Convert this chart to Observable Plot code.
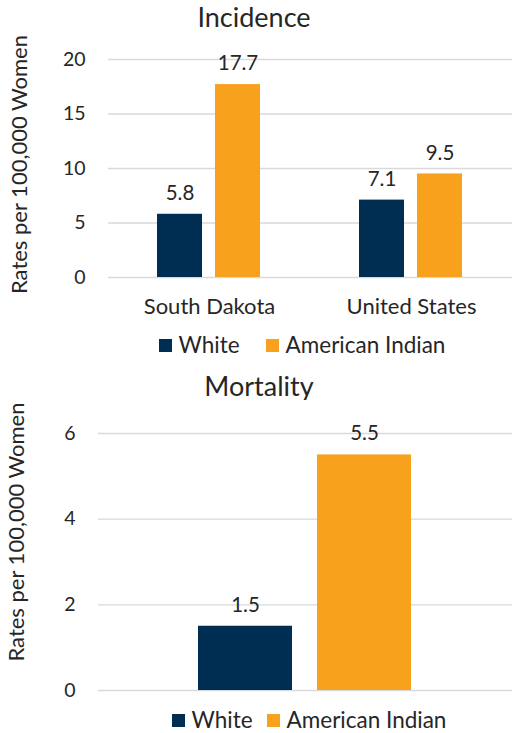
<!DOCTYPE html>
<html><head><meta charset="utf-8">
<script src="https://cdn.jsdelivr.net/npm/d3@7"></script>
<script src="https://cdn.jsdelivr.net/npm/@observablehq/plot@0.6"></script>
<style>
html,body{margin:0;padding:0;overflow:hidden;background:#fff;}
#page{position:relative;width:512px;height:733px;font-family:Lato,sans-serif;color:#262626;}
.title{position:absolute;text-align:center;font-size:27px;line-height:32px;white-space:nowrap;}
.legend{position:absolute;display:flex;justify-content:center;align-items:center;font-size:22.5px;line-height:24px;}
.item{display:flex;align-items:center;margin:0 13px;white-space:nowrap;}
#l2 .item{margin:0 7px;}
.sw{display:inline-block;width:13px;height:13px;margin-right:7px;}
.chart{position:absolute;left:0;}
</style></head>
<body><div id="page">
<div class="title" id="t1" style="left:0;width:508px;top:1px;">Incidence</div>
<div class="chart" id="c1" style="top:40px;"></div>
<div class="legend" id="l1" style="left:107px;width:390px;top:333px;"></div>
<div class="title" id="t2" style="left:0;width:518px;top:370px;">Mortality</div>
<div class="chart" id="c2" style="top:400px;"></div>
<div class="legend" id="l2" style="left:102px;width:414px;top:708px;"></div>
</div>
<script>
const states = ["South Dakota", "United States"];
const races = ["White", "American Indian"];
const incidenceWhite = [5.8, 7.1];
const incidenceAmericanIndian = [17.7, 9.5];
const mortalityValues = [1.5, 5.5];
const incidenceTicks = [0, 5, 10, 15, 20];
const mortalityTicks = [0, 2, 4, 6];
const raceColors = ["#002d52", "#f8a11d"];
const yLabel = "Rates per 100,000 Women";

const incidence = [];
states.forEach((s, i) => {
  incidence.push({state: s, race: races[0], value: incidenceWhite[i]});
  incidence.push({state: s, race: races[1], value: incidenceAmericanIndian[i]});
});
const mortality = races.map((r, i) => ({race: r, value: mortalityValues[i]}));

const baseStyle = {fontFamily: "Lato, sans-serif", fontSize: "19px", color: "#262626", background: "#fff", overflow: "visible"};
const fmt = d => String(d);

const p1 = Plot.plot({
  width: 512, height: 290,
  marginLeft: 107, marginRight: 0, marginTop: 19, marginBottom: 53,
  style: baseStyle,
  fx: {domain: states, padding: 0, label: null, axis: null},
  x: {domain: races, paddingInner: 0.22, paddingOuter: 0.826, axis: null},
  y: {domain: [0, 20], axis: null},
  color: {domain: races, range: raceColors},
  marks: [
    Plot.ruleY(incidenceTicks, {stroke: "#d9d9d9", strokeWidth: 1.3}),
    Plot.axisY({ticks: incidenceTicks, tickFormat: fmt, tickSize: 0, tickPadding: 23, label: null, fontSize: 19.5}),
    Plot.axisFx({anchor: "bottom", tickSize: 0, tickPadding: 21, label: null, fontSize: 22}),
    Plot.barY(incidence, {fx: "state", x: "race", y: "value", fill: "race"}),
    Plot.text(incidence, {fx: "state", x: "race", y: "value", text: d => d.value.toFixed(1), dy: -21, lineAnchor: "middle", fontSize: 20.5, fill: "#262626"}),
    Plot.text([{state: states[0], t: yLabel}], {fx: "state", text: "t", frameAnchor: "left", textAnchor: "middle", lineAnchor: "middle", rotate: -90, dx: -89, dy: -4, fontSize: 22, fill: "#262626"})
  ]
});
document.getElementById("c1").appendChild(p1);

const p2 = Plot.plot({
  width: 512, height: 305,
  marginLeft: 98, marginRight: 0, marginTop: 33, marginBottom: 15,
  style: baseStyle,
  x: {domain: races, paddingInner: 0.206, paddingOuter: 0.84, axis: null},
  y: {domain: [0, 6], axis: null},
  color: {domain: races, range: raceColors},
  marks: [
    Plot.ruleY(mortalityTicks, {stroke: "#d9d9d9", strokeWidth: 1.3}),
    Plot.axisY({ticks: mortalityTicks, tickFormat: fmt, tickSize: 0, tickPadding: 23, label: null, fontSize: 19.5}),
    Plot.barY(mortality, {x: "race", y: "value", fill: "race"}),
    Plot.text(mortality, {x: "race", y: "value", text: d => d.value.toFixed(1), dy: -21, lineAnchor: "middle", fontSize: 20.5, fill: "#262626"}),
    Plot.text([yLabel], {frameAnchor: "left", textAnchor: "middle", lineAnchor: "middle", rotate: -90, dx: -81.5, dy: -30, fontSize: 22, fill: "#262626"})
  ]
});
document.getElementById("c2").appendChild(p2);

function legend(id) {
  const el = document.getElementById(id);
  races.forEach((r, i) => {
    const item = document.createElement("span");
    item.className = "item";
    const sw = document.createElement("span");
    sw.className = "sw";
    sw.style.background = raceColors[i];
    item.appendChild(sw);
    item.appendChild(document.createTextNode(r));
    el.appendChild(item);
  });
}
legend("l1");
legend("l2");
</script>
</body></html>
